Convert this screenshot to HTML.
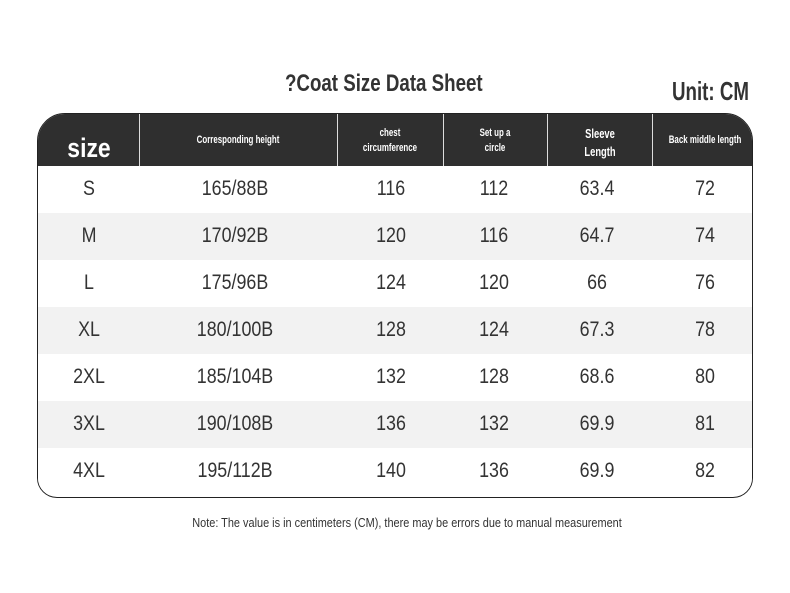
<!DOCTYPE html>
<html><head><meta charset="utf-8"><style>
*{margin:0;padding:0;box-sizing:border-box}
body{width:790px;height:593px;background:#fff;position:relative;overflow:hidden;font-family:"Liberation Sans","DejaVu Sans",sans-serif;color:#222}
.t{position:absolute;white-space:nowrap;transform-origin:center center}
.tbl{position:absolute;left:37px;top:113px;width:716px;height:385px;border:1px solid #222;border-radius:28px 28px 20px 20px;overflow:hidden;background:#fff}
.hd{position:absolute;left:0;top:0;width:100%;height:52px;background:#2f2f2f}
.row{position:absolute;left:0;width:100%;height:47px}
.vl{position:absolute;top:0;width:1px;height:52px;background:#ddd}
.c{position:absolute;text-align:center;white-space:nowrap;transform:translateX(-50%) scaleX(0.85)}
.h{color:#fff;font-weight:bold;text-align:center;white-space:nowrap;position:absolute;transform:translateX(-50%) scaleX(0.72);line-height:1.35}
</style></head><body>
<div class="t" style="left:285px;top:70px;font-size:24px;font-weight:bold;color:#333;transform:scaleX(0.78);transform-origin:left center">?Coat Size Data Sheet</div>
<div class="t" style="left:672px;top:76px;font-size:26px;font-weight:bold;color:#333;transform:scaleX(0.72);transform-origin:left center">Unit: CM</div>
<div class="tbl">
<div class="hd"></div>
<div class="vl" style="left:101px"></div><div class="vl" style="left:299px"></div><div class="vl" style="left:405px"></div><div class="vl" style="left:509px"></div><div class="vl" style="left:614px"></div>
<div class="h" style="left:51px;top:16px;font-size:27px;transform:translateX(-50%) scaleX(0.85)">size</div>
<div class="h" style="left:200px;top:19px;font-size:11px">Corresponding height</div>
<div class="h" style="left:352px;top:12px;font-size:11px">chest<br>circumference</div>
<div class="h" style="left:457px;top:12px;font-size:11px">Set up a<br>circle</div>
<div class="h" style="left:562px;top:11px;font-size:13px">Sleeve<br>Length</div>
<div class="h" style="left:667px;top:19px;font-size:11px">Back middle length</div>
<div id="rows"></div>
</div>
<div class="t" style="left:407px;top:515px;font-size:13px;color:#333;transform:translateX(-50%) scaleX(0.84)">Note: The value is in centimeters (CM), there may be errors due to manual measurement</div>
<script>
var d=[["S","165/88B","116","112","63.4","72"],["M","170/92B","120","116","64.7","74"],["L","175/96B","124","120","66","76"],["XL","180/100B","128","124","67.3","78"],["2XL","185/104B","132","128","68.6","80"],["3XL","190/108B","136","132","69.9","81"],["4XL","195/112B","140","136","69.9","82"]];
var xs=[51,197,353,456,559,667],h="";
d.forEach(function(r,i){h+='<div class="row" style="top:'+(52+i*47)+'px;background:'+(i%2?'#f2f2f2':'#fff')+'">';
r.forEach(function(v,j){h+='<div class="c" style="left:'+xs[j]+'px;top:11px;font-size:21px;color:#333">'+v+'</div>'});h+='</div>'});
document.getElementById('rows').innerHTML=h;
</script>
</body></html>
